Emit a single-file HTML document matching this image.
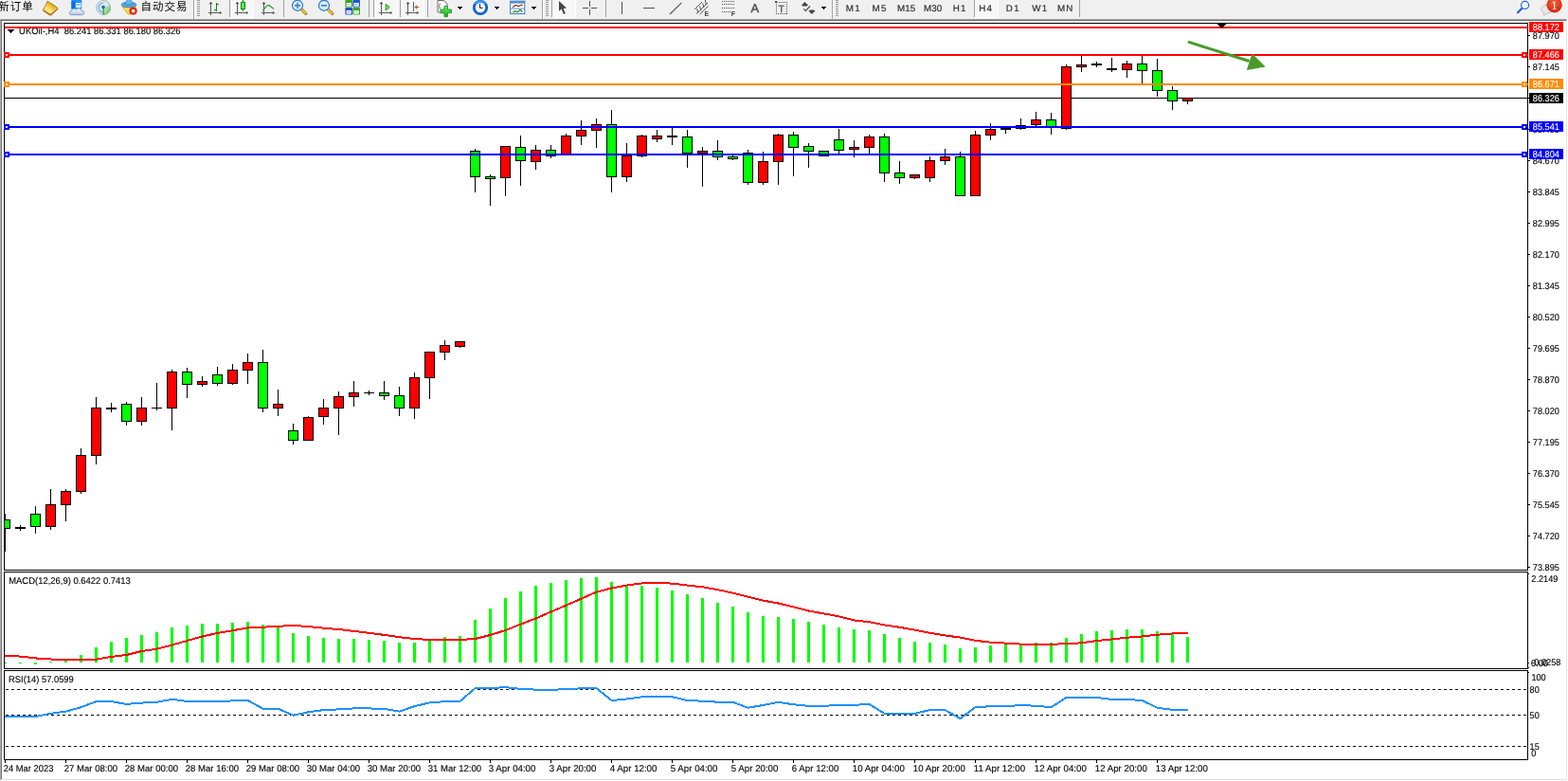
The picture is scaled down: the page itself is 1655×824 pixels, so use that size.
<!DOCTYPE html>
<html lang="zh-CN">
<head>
<meta charset="utf-8">
<title>UKOil-,H4</title>
<style>
html,body{margin:0;padding:0;background:#fff;}
body{width:1655px;height:824px;overflow:hidden;position:relative;font-family:"Liberation Sans","Noto Sans CJK SC",sans-serif;}
.chart{position:absolute;left:0;top:0;}
.tb{position:absolute;left:0;top:0;width:1655px;height:20px;background:#f0f0f0;overflow:hidden;}
.tb svg{position:absolute;left:0;top:0;}
.cjk{position:absolute;font-size:11.5px;line-height:12px;letter-spacing:1px;color:#000;white-space:nowrap;}
.tf{position:absolute;top:0;height:18px;line-height:17px;font-size:9px;color:#303030;text-align:center;width:28px;letter-spacing:0.2px;}
</style>
</head>
<body>
<svg class="chart" width="1655" height="824" viewBox="0 0 1655 824" font-family='"Liberation Sans", sans-serif' text-rendering="geometricPrecision">
<defs><clipPath id="cm"><rect x="5" y="25" width="1607" height="576"/></clipPath><clipPath id="ci"><rect x="5" y="604" width="1607" height="101"/></clipPath></defs>
<g shape-rendering="crispEdges">
<rect x="0" y="22" width="1655" height="802" fill="#fff"/>
<rect x="0" y="20" width="1654" height="1" fill="#a6a6a6"/>
<rect x="0" y="21" width="1653" height="1" fill="#696969"/>
<rect x="1653" y="21" width="2" height="1" fill="#f0f0f0"/>
<rect x="0" y="21" width="1" height="802" fill="#ababab"/>
<rect x="1" y="22" width="1" height="800" fill="#757575"/>
<rect x="1653" y="22" width="1" height="801" fill="#e6e6e6"/>
<rect x="2" y="822" width="1652" height="1" fill="#e0e0e0"/>
<rect x="5" y="103" width="1607" height="1" fill="#000"/>
<g clip-path="url(#cm)">
<rect x="5" y="542" width="1" height="40" fill="#000"/>
<rect x="0" y="548" width="11" height="10" fill="#000"/>
<rect x="1" y="549" width="9" height="8" fill="#00ff00"/>
<rect x="21" y="554" width="1" height="6" fill="#000"/>
<rect x="16" y="556" width="11" height="2" fill="#000"/>
<rect x="37" y="534" width="1" height="29" fill="#000"/>
<rect x="32" y="542" width="11" height="14" fill="#000"/>
<rect x="33" y="543" width="9" height="12" fill="#00ff00"/>
<rect x="53" y="516" width="1" height="43" fill="#000"/>
<rect x="48" y="532" width="11" height="24" fill="#000"/>
<rect x="49" y="533" width="9" height="22" fill="#ff0000"/>
<rect x="69" y="516" width="1" height="34" fill="#000"/>
<rect x="64" y="518" width="11" height="15" fill="#000"/>
<rect x="65" y="519" width="9" height="13" fill="#ff0000"/>
<rect x="85" y="473" width="1" height="48" fill="#000"/>
<rect x="80" y="480" width="11" height="39" fill="#000"/>
<rect x="81" y="481" width="9" height="37" fill="#ff0000"/>
<rect x="101" y="419" width="1" height="71" fill="#000"/>
<rect x="96" y="430" width="11" height="51" fill="#000"/>
<rect x="97" y="431" width="9" height="49" fill="#ff0000"/>
<rect x="117" y="425" width="1" height="10" fill="#000"/>
<rect x="112" y="430" width="11" height="2" fill="#000"/>
<rect x="133" y="424" width="1" height="25" fill="#000"/>
<rect x="128" y="426" width="11" height="19" fill="#000"/>
<rect x="129" y="427" width="9" height="17" fill="#00ff00"/>
<rect x="149" y="419" width="1" height="30" fill="#000"/>
<rect x="144" y="430" width="11" height="15" fill="#000"/>
<rect x="145" y="431" width="9" height="13" fill="#ff0000"/>
<rect x="165" y="404" width="1" height="29" fill="#000"/>
<rect x="160" y="430" width="11" height="1" fill="#000"/>
<rect x="181" y="390" width="1" height="64" fill="#000"/>
<rect x="176" y="392" width="11" height="39" fill="#000"/>
<rect x="177" y="393" width="9" height="37" fill="#ff0000"/>
<rect x="197" y="388" width="1" height="32" fill="#000"/>
<rect x="192" y="392" width="11" height="14" fill="#000"/>
<rect x="193" y="393" width="9" height="12" fill="#00ff00"/>
<rect x="213" y="397" width="1" height="11" fill="#000"/>
<rect x="208" y="402" width="11" height="4" fill="#000"/>
<rect x="209" y="403" width="9" height="2" fill="#ff0000"/>
<rect x="229" y="387" width="1" height="20" fill="#000"/>
<rect x="224" y="395" width="11" height="10" fill="#000"/>
<rect x="225" y="396" width="9" height="8" fill="#00ff00"/>
<rect x="245" y="384" width="1" height="22" fill="#000"/>
<rect x="240" y="390" width="11" height="15" fill="#000"/>
<rect x="241" y="391" width="9" height="13" fill="#ff0000"/>
<rect x="261" y="373" width="1" height="32" fill="#000"/>
<rect x="256" y="382" width="11" height="9" fill="#000"/>
<rect x="257" y="383" width="9" height="7" fill="#ff0000"/>
<rect x="277" y="369" width="1" height="66" fill="#000"/>
<rect x="272" y="382" width="11" height="49" fill="#000"/>
<rect x="273" y="383" width="9" height="47" fill="#00ff00"/>
<rect x="293" y="411" width="1" height="28" fill="#000"/>
<rect x="288" y="426" width="11" height="5" fill="#000"/>
<rect x="289" y="427" width="9" height="3" fill="#ff0000"/>
<rect x="309" y="447" width="1" height="22" fill="#000"/>
<rect x="304" y="454" width="11" height="11" fill="#000"/>
<rect x="305" y="455" width="9" height="9" fill="#00ff00"/>
<rect x="325" y="439" width="1" height="26" fill="#000"/>
<rect x="320" y="440" width="11" height="25" fill="#000"/>
<rect x="321" y="441" width="9" height="23" fill="#ff0000"/>
<rect x="341" y="421" width="1" height="27" fill="#000"/>
<rect x="336" y="430" width="11" height="10" fill="#000"/>
<rect x="337" y="431" width="9" height="8" fill="#ff0000"/>
<rect x="357" y="413" width="1" height="46" fill="#000"/>
<rect x="352" y="418" width="11" height="13" fill="#000"/>
<rect x="353" y="419" width="9" height="11" fill="#ff0000"/>
<rect x="373" y="402" width="1" height="27" fill="#000"/>
<rect x="368" y="414" width="11" height="5" fill="#000"/>
<rect x="369" y="415" width="9" height="3" fill="#ff0000"/>
<rect x="389" y="412" width="1" height="5" fill="#000"/>
<rect x="384" y="414" width="11" height="1" fill="#000"/>
<rect x="405" y="402" width="1" height="20" fill="#000"/>
<rect x="400" y="414" width="11" height="4" fill="#000"/>
<rect x="401" y="415" width="9" height="2" fill="#00ff00"/>
<rect x="421" y="408" width="1" height="31" fill="#000"/>
<rect x="416" y="417" width="11" height="14" fill="#000"/>
<rect x="417" y="418" width="9" height="12" fill="#00ff00"/>
<rect x="437" y="393" width="1" height="49" fill="#000"/>
<rect x="432" y="398" width="11" height="33" fill="#000"/>
<rect x="433" y="399" width="9" height="31" fill="#ff0000"/>
<rect x="453" y="371" width="1" height="50" fill="#000"/>
<rect x="448" y="371" width="11" height="28" fill="#000"/>
<rect x="449" y="372" width="9" height="26" fill="#ff0000"/>
<rect x="469" y="359" width="1" height="21" fill="#000"/>
<rect x="464" y="364" width="11" height="8" fill="#000"/>
<rect x="465" y="365" width="9" height="6" fill="#ff0000"/>
<rect x="485" y="360" width="1" height="7" fill="#000"/>
<rect x="480" y="360" width="11" height="6" fill="#000"/>
<rect x="481" y="361" width="9" height="4" fill="#ff0000"/>
<rect x="501" y="157" width="1" height="46" fill="#000"/>
<rect x="496" y="159" width="11" height="28" fill="#000"/>
<rect x="497" y="160" width="9" height="26" fill="#00ff00"/>
<rect x="517" y="184" width="1" height="33" fill="#000"/>
<rect x="512" y="186" width="11" height="3" fill="#000"/>
<rect x="513" y="187" width="9" height="1" fill="#00ff00"/>
<rect x="533" y="154" width="1" height="53" fill="#000"/>
<rect x="528" y="154" width="11" height="34" fill="#000"/>
<rect x="529" y="155" width="9" height="32" fill="#ff0000"/>
<rect x="549" y="143" width="1" height="53" fill="#000"/>
<rect x="544" y="155" width="11" height="15" fill="#000"/>
<rect x="545" y="156" width="9" height="13" fill="#00ff00"/>
<rect x="565" y="153" width="1" height="26" fill="#000"/>
<rect x="560" y="158" width="11" height="13" fill="#000"/>
<rect x="561" y="159" width="9" height="11" fill="#ff0000"/>
<rect x="581" y="153" width="1" height="14" fill="#000"/>
<rect x="576" y="158" width="11" height="7" fill="#000"/>
<rect x="577" y="159" width="9" height="5" fill="#00ff00"/>
<rect x="597" y="141" width="1" height="23" fill="#000"/>
<rect x="592" y="143" width="11" height="21" fill="#000"/>
<rect x="593" y="144" width="9" height="19" fill="#ff0000"/>
<rect x="613" y="127" width="1" height="26" fill="#000"/>
<rect x="608" y="137" width="11" height="7" fill="#000"/>
<rect x="609" y="138" width="9" height="5" fill="#ff0000"/>
<rect x="629" y="125" width="1" height="31" fill="#000"/>
<rect x="624" y="131" width="11" height="7" fill="#000"/>
<rect x="625" y="132" width="9" height="5" fill="#ff0000"/>
<rect x="645" y="116" width="1" height="87" fill="#000"/>
<rect x="640" y="131" width="11" height="56" fill="#000"/>
<rect x="641" y="132" width="9" height="54" fill="#00ff00"/>
<rect x="661" y="151" width="1" height="41" fill="#000"/>
<rect x="656" y="164" width="11" height="23" fill="#000"/>
<rect x="657" y="165" width="9" height="21" fill="#ff0000"/>
<rect x="677" y="142" width="1" height="24" fill="#000"/>
<rect x="672" y="143" width="11" height="22" fill="#000"/>
<rect x="673" y="144" width="9" height="20" fill="#ff0000"/>
<rect x="693" y="137" width="1" height="13" fill="#000"/>
<rect x="688" y="143" width="11" height="4" fill="#000"/>
<rect x="689" y="144" width="9" height="2" fill="#ff0000"/>
<rect x="709" y="133" width="1" height="20" fill="#000"/>
<rect x="704" y="143" width="11" height="2" fill="#000"/>
<rect x="725" y="137" width="1" height="40" fill="#000"/>
<rect x="720" y="144" width="11" height="18" fill="#000"/>
<rect x="721" y="145" width="9" height="16" fill="#00ff00"/>
<rect x="741" y="155" width="1" height="42" fill="#000"/>
<rect x="736" y="159" width="11" height="3" fill="#000"/>
<rect x="737" y="160" width="9" height="1" fill="#ff0000"/>
<rect x="757" y="148" width="1" height="21" fill="#000"/>
<rect x="752" y="159" width="11" height="7" fill="#000"/>
<rect x="753" y="160" width="9" height="5" fill="#00ff00"/>
<rect x="773" y="164" width="1" height="5" fill="#000"/>
<rect x="768" y="165" width="11" height="3" fill="#000"/>
<rect x="769" y="166" width="9" height="1" fill="#00ff00"/>
<rect x="789" y="158" width="1" height="37" fill="#000"/>
<rect x="784" y="161" width="11" height="32" fill="#000"/>
<rect x="785" y="162" width="9" height="30" fill="#00ff00"/>
<rect x="805" y="160" width="1" height="35" fill="#000"/>
<rect x="800" y="170" width="11" height="23" fill="#000"/>
<rect x="801" y="171" width="9" height="21" fill="#ff0000"/>
<rect x="821" y="141" width="1" height="54" fill="#000"/>
<rect x="816" y="142" width="11" height="29" fill="#000"/>
<rect x="817" y="143" width="9" height="27" fill="#ff0000"/>
<rect x="837" y="139" width="1" height="47" fill="#000"/>
<rect x="832" y="142" width="11" height="14" fill="#000"/>
<rect x="833" y="143" width="9" height="12" fill="#00ff00"/>
<rect x="853" y="151" width="1" height="26" fill="#000"/>
<rect x="848" y="154" width="11" height="6" fill="#000"/>
<rect x="849" y="155" width="9" height="4" fill="#00ff00"/>
<rect x="869" y="159" width="1" height="6" fill="#000"/>
<rect x="864" y="159" width="11" height="6" fill="#000"/>
<rect x="865" y="160" width="9" height="4" fill="#00ff00"/>
<rect x="885" y="136" width="1" height="26" fill="#000"/>
<rect x="880" y="147" width="11" height="12" fill="#000"/>
<rect x="881" y="148" width="9" height="10" fill="#00ff00"/>
<rect x="901" y="148" width="1" height="18" fill="#000"/>
<rect x="896" y="155" width="11" height="3" fill="#000"/>
<rect x="897" y="156" width="9" height="1" fill="#ff0000"/>
<rect x="917" y="142" width="1" height="20" fill="#000"/>
<rect x="912" y="144" width="11" height="12" fill="#000"/>
<rect x="913" y="145" width="9" height="10" fill="#ff0000"/>
<rect x="933" y="141" width="1" height="51" fill="#000"/>
<rect x="928" y="144" width="11" height="39" fill="#000"/>
<rect x="929" y="145" width="9" height="37" fill="#00ff00"/>
<rect x="949" y="170" width="1" height="24" fill="#000"/>
<rect x="944" y="182" width="11" height="6" fill="#000"/>
<rect x="945" y="183" width="9" height="4" fill="#00ff00"/>
<rect x="965" y="184" width="1" height="5" fill="#000"/>
<rect x="960" y="184" width="11" height="4" fill="#000"/>
<rect x="961" y="185" width="9" height="2" fill="#ff0000"/>
<rect x="981" y="165" width="1" height="27" fill="#000"/>
<rect x="976" y="169" width="11" height="19" fill="#000"/>
<rect x="977" y="170" width="9" height="17" fill="#ff0000"/>
<rect x="997" y="157" width="1" height="17" fill="#000"/>
<rect x="992" y="165" width="11" height="5" fill="#000"/>
<rect x="993" y="166" width="9" height="3" fill="#ff0000"/>
<rect x="1013" y="160" width="1" height="47" fill="#000"/>
<rect x="1008" y="165" width="11" height="42" fill="#000"/>
<rect x="1009" y="166" width="9" height="40" fill="#00ff00"/>
<rect x="1029" y="138" width="1" height="69" fill="#000"/>
<rect x="1024" y="142" width="11" height="65" fill="#000"/>
<rect x="1025" y="143" width="9" height="63" fill="#ff0000"/>
<rect x="1045" y="130" width="1" height="18" fill="#000"/>
<rect x="1040" y="136" width="11" height="7" fill="#000"/>
<rect x="1041" y="137" width="9" height="5" fill="#ff0000"/>
<rect x="1061" y="133" width="1" height="8" fill="#000"/>
<rect x="1056" y="135" width="11" height="2" fill="#000"/>
<rect x="1077" y="125" width="1" height="12" fill="#000"/>
<rect x="1072" y="132" width="11" height="4" fill="#000"/>
<rect x="1073" y="133" width="9" height="2" fill="#ff0000"/>
<rect x="1093" y="118" width="1" height="15" fill="#000"/>
<rect x="1088" y="126" width="11" height="6" fill="#000"/>
<rect x="1089" y="127" width="9" height="4" fill="#ff0000"/>
<rect x="1109" y="119" width="1" height="23" fill="#000"/>
<rect x="1104" y="126" width="11" height="9" fill="#000"/>
<rect x="1105" y="127" width="9" height="7" fill="#00ff00"/>
<rect x="1125" y="68" width="1" height="69" fill="#000"/>
<rect x="1120" y="70" width="11" height="66" fill="#000"/>
<rect x="1121" y="71" width="9" height="64" fill="#ff0000"/>
<rect x="1141" y="59" width="1" height="17" fill="#000"/>
<rect x="1136" y="68" width="11" height="3" fill="#000"/>
<rect x="1137" y="69" width="9" height="1" fill="#ff0000"/>
<rect x="1157" y="65" width="1" height="6" fill="#000"/>
<rect x="1152" y="67" width="11" height="2" fill="#000"/>
<rect x="1173" y="61" width="1" height="15" fill="#000"/>
<rect x="1168" y="72" width="11" height="2" fill="#000"/>
<rect x="1189" y="64" width="1" height="18" fill="#000"/>
<rect x="1184" y="67" width="11" height="7" fill="#000"/>
<rect x="1185" y="68" width="9" height="5" fill="#ff0000"/>
<rect x="1205" y="59" width="1" height="29" fill="#000"/>
<rect x="1200" y="67" width="11" height="8" fill="#000"/>
<rect x="1201" y="68" width="9" height="6" fill="#00ff00"/>
<rect x="1221" y="62" width="1" height="40" fill="#000"/>
<rect x="1216" y="74" width="11" height="22" fill="#000"/>
<rect x="1217" y="75" width="9" height="20" fill="#00ff00"/>
<rect x="1237" y="91" width="1" height="25" fill="#000"/>
<rect x="1232" y="95" width="11" height="12" fill="#000"/>
<rect x="1233" y="96" width="9" height="10" fill="#00ff00"/>
<rect x="1253" y="103" width="1" height="7" fill="#000"/>
<rect x="1248" y="103" width="11" height="4" fill="#000"/>
<rect x="1249" y="104" width="9" height="2" fill="#ff0000"/>
</g>
</g>
<path d="M8,31 L15,31 L11.5,35 Z" fill="#000" shape-rendering="crispEdges"/>
<text transform="translate(20.1 36) scale(0.96 1)" font-size="9.8" fill="#000" stroke="#000" stroke-width="0.12" xml:space="preserve">UKOil-,H4&#160; 86.241 86.331 86.180 86.326</text>
<g shape-rendering="crispEdges">
<rect x="4" y="24" width="1609" height="1" fill="#000"/>
<rect x="4" y="601" width="1609" height="1" fill="#000"/>
<rect x="4" y="24" width="1" height="578" fill="#000"/>
<rect x="1612" y="24" width="1" height="578" fill="#000"/>
<rect x="4" y="603" width="1609" height="1" fill="#000"/>
<rect x="4" y="705" width="1609" height="1" fill="#000"/>
<rect x="4" y="603" width="1" height="103" fill="#000"/>
<rect x="1612" y="603" width="1" height="103" fill="#000"/>
<rect x="4" y="707" width="1609" height="1" fill="#000"/>
<rect x="4" y="801" width="1609" height="1" fill="#000"/>
<rect x="4" y="707" width="1" height="95" fill="#000"/>
<rect x="1612" y="707" width="1" height="95" fill="#000"/>
<rect x="5" y="28" width="1608" height="2" fill="#ff0000"/>
<rect x="5" y="57" width="1608" height="2" fill="#ff0000"/>
<rect x="4" y="55" width="6" height="6" fill="#ff0000"/>
<rect x="6" y="57" width="2" height="2" fill="#fff"/>
<rect x="1606" y="55" width="6" height="6" fill="#ff0000"/>
<rect x="1608" y="57" width="2" height="2" fill="#fff"/>
<rect x="5" y="88" width="1608" height="2" fill="#ff8c00"/>
<rect x="4" y="86" width="6" height="6" fill="#ff8c00"/>
<rect x="6" y="88" width="2" height="2" fill="#fff"/>
<rect x="1606" y="86" width="6" height="6" fill="#ff8c00"/>
<rect x="1608" y="88" width="2" height="2" fill="#fff"/>
<rect x="5" y="133" width="1608" height="2" fill="#0000ff"/>
<rect x="4" y="131" width="6" height="6" fill="#0000ff"/>
<rect x="6" y="133" width="2" height="2" fill="#fff"/>
<rect x="1606" y="131" width="6" height="6" fill="#0000ff"/>
<rect x="1608" y="133" width="2" height="2" fill="#fff"/>
<rect x="5" y="162" width="1608" height="2" fill="#0000ff"/>
<rect x="4" y="160" width="6" height="6" fill="#0000ff"/>
<rect x="6" y="162" width="2" height="2" fill="#fff"/>
<rect x="1606" y="160" width="6" height="6" fill="#0000ff"/>
<rect x="1608" y="162" width="2" height="2" fill="#fff"/>
<g clip-path="url(#ci)">
<rect x="4" y="699" width="3" height="1" fill="#00ff00"/>
<rect x="20" y="699" width="3" height="1" fill="#00ff00"/>
<rect x="36" y="699" width="3" height="2" fill="#00ff00"/>
<rect x="52" y="698" width="3" height="1" fill="#00ff00"/>
<rect x="68" y="697" width="3" height="2" fill="#00ff00"/>
<rect x="84" y="691" width="3" height="8" fill="#00ff00"/>
<rect x="100" y="683" width="3" height="16" fill="#00ff00"/>
<rect x="116" y="677" width="3" height="22" fill="#00ff00"/>
<rect x="132" y="673" width="3" height="26" fill="#00ff00"/>
<rect x="148" y="670" width="3" height="29" fill="#00ff00"/>
<rect x="164" y="667" width="3" height="32" fill="#00ff00"/>
<rect x="180" y="662" width="3" height="37" fill="#00ff00"/>
<rect x="196" y="660" width="3" height="39" fill="#00ff00"/>
<rect x="212" y="658" width="3" height="41" fill="#00ff00"/>
<rect x="228" y="658" width="3" height="41" fill="#00ff00"/>
<rect x="244" y="657" width="3" height="42" fill="#00ff00"/>
<rect x="260" y="656" width="3" height="43" fill="#00ff00"/>
<rect x="276" y="659" width="3" height="40" fill="#00ff00"/>
<rect x="292" y="662" width="3" height="37" fill="#00ff00"/>
<rect x="308" y="668" width="3" height="31" fill="#00ff00"/>
<rect x="324" y="671" width="3" height="28" fill="#00ff00"/>
<rect x="340" y="673" width="3" height="26" fill="#00ff00"/>
<rect x="356" y="674" width="3" height="25" fill="#00ff00"/>
<rect x="372" y="674" width="3" height="25" fill="#00ff00"/>
<rect x="388" y="675" width="3" height="24" fill="#00ff00"/>
<rect x="404" y="676" width="3" height="23" fill="#00ff00"/>
<rect x="420" y="678" width="3" height="21" fill="#00ff00"/>
<rect x="436" y="678" width="3" height="21" fill="#00ff00"/>
<rect x="452" y="675" width="3" height="24" fill="#00ff00"/>
<rect x="468" y="672" width="3" height="27" fill="#00ff00"/>
<rect x="484" y="671" width="3" height="28" fill="#00ff00"/>
<rect x="500" y="654" width="3" height="45" fill="#00ff00"/>
<rect x="516" y="642" width="3" height="57" fill="#00ff00"/>
<rect x="532" y="631" width="3" height="68" fill="#00ff00"/>
<rect x="548" y="624" width="3" height="75" fill="#00ff00"/>
<rect x="564" y="618" width="3" height="81" fill="#00ff00"/>
<rect x="580" y="615" width="3" height="84" fill="#00ff00"/>
<rect x="596" y="612" width="3" height="87" fill="#00ff00"/>
<rect x="612" y="610" width="3" height="89" fill="#00ff00"/>
<rect x="628" y="609" width="3" height="90" fill="#00ff00"/>
<rect x="644" y="614" width="3" height="85" fill="#00ff00"/>
<rect x="660" y="618" width="3" height="81" fill="#00ff00"/>
<rect x="676" y="618" width="3" height="81" fill="#00ff00"/>
<rect x="692" y="620" width="3" height="79" fill="#00ff00"/>
<rect x="708" y="623" width="3" height="76" fill="#00ff00"/>
<rect x="724" y="627" width="3" height="72" fill="#00ff00"/>
<rect x="740" y="631" width="3" height="68" fill="#00ff00"/>
<rect x="756" y="636" width="3" height="63" fill="#00ff00"/>
<rect x="772" y="640" width="3" height="59" fill="#00ff00"/>
<rect x="788" y="646" width="3" height="53" fill="#00ff00"/>
<rect x="804" y="650" width="3" height="49" fill="#00ff00"/>
<rect x="820" y="651" width="3" height="48" fill="#00ff00"/>
<rect x="836" y="653" width="3" height="46" fill="#00ff00"/>
<rect x="852" y="656" width="3" height="43" fill="#00ff00"/>
<rect x="868" y="659" width="3" height="40" fill="#00ff00"/>
<rect x="884" y="662" width="3" height="37" fill="#00ff00"/>
<rect x="900" y="664" width="3" height="35" fill="#00ff00"/>
<rect x="916" y="665" width="3" height="34" fill="#00ff00"/>
<rect x="932" y="669" width="3" height="30" fill="#00ff00"/>
<rect x="948" y="673" width="3" height="26" fill="#00ff00"/>
<rect x="964" y="677" width="3" height="22" fill="#00ff00"/>
<rect x="980" y="678" width="3" height="21" fill="#00ff00"/>
<rect x="996" y="680" width="3" height="19" fill="#00ff00"/>
<rect x="1012" y="684" width="3" height="15" fill="#00ff00"/>
<rect x="1028" y="683" width="3" height="16" fill="#00ff00"/>
<rect x="1044" y="681" width="3" height="18" fill="#00ff00"/>
<rect x="1060" y="680" width="3" height="19" fill="#00ff00"/>
<rect x="1076" y="679" width="3" height="20" fill="#00ff00"/>
<rect x="1092" y="678" width="3" height="21" fill="#00ff00"/>
<rect x="1108" y="678" width="3" height="21" fill="#00ff00"/>
<rect x="1124" y="673" width="3" height="26" fill="#00ff00"/>
<rect x="1140" y="669" width="3" height="30" fill="#00ff00"/>
<rect x="1156" y="666" width="3" height="33" fill="#00ff00"/>
<rect x="1172" y="665" width="3" height="34" fill="#00ff00"/>
<rect x="1188" y="664" width="3" height="35" fill="#00ff00"/>
<rect x="1204" y="664" width="3" height="35" fill="#00ff00"/>
<rect x="1220" y="666" width="3" height="33" fill="#00ff00"/>
<rect x="1236" y="668" width="3" height="31" fill="#00ff00"/>
<rect x="1252" y="672" width="3" height="27" fill="#00ff00"/>
</g>
<line x1="6" y1="727.5" x2="1612" y2="727.5" stroke="#000" stroke-width="1" stroke-dasharray="3 3"/>
<line x1="6" y1="754.5" x2="1612" y2="754.5" stroke="#000" stroke-width="1" stroke-dasharray="3 3"/>
<line x1="6" y1="787.5" x2="1612" y2="787.5" stroke="#000" stroke-width="1" stroke-dasharray="3 3"/>
<polyline points="4.6,692 5.5,692 21.5,692.55 37.5,694.45 53.5,695.5 69.5,696 85.5,696 101.5,695.6 117.5,693 133.5,691 149.5,687 165.5,684.7 181.5,680.6 197.5,676 213.5,671.5 229.5,668 245.5,665.2 261.5,662.4 277.5,661.7 293.5,660.8 309.5,660 325.5,661 341.5,662.7 357.5,664 373.5,665.9 389.5,667.8 405.5,669.9 421.5,672.2 437.5,674 453.5,675 469.5,675 485.5,675 501.5,674 517.5,670 533.5,665 549.5,658.6 565.5,652.5 581.5,645.5 597.5,638.7 613.5,631.7 629.5,624.6 645.5,620.5 661.5,617.6 677.5,615.4 693.5,615 709.5,615.6 725.5,617.6 741.5,619.3 757.5,622.2 773.5,625.6 789.5,629.7 805.5,633.6 821.5,636.5 837.5,640.4 853.5,644.5 869.5,647.4 885.5,650.3 901.5,654.4 917.5,656.2 933.5,659.4 949.5,661.8 965.5,664.6 981.5,667.8 997.5,670.4 1013.5,672.6 1029.5,675.8 1045.5,677.7 1061.5,678.6 1077.5,679.6 1093.5,679.8 1109.5,679.8 1125.5,679.2 1141.5,678.3 1157.5,676.1 1173.5,674.5 1189.5,672.7 1205.5,671.5 1221.5,669.7 1237.5,668.5 1253.5,668 1254.4,668" fill="none" stroke="#ff0000" stroke-width="2" stroke-linejoin="round"/>
<polyline points="4.6,756 5.5,756 21.5,756 37.5,756 53.5,752.8 69.5,750.6 85.5,746.2 101.5,740.1 117.5,740.1 133.5,742.9 149.5,741.6 165.5,740.8 181.5,737.8 197.5,740 213.5,740 229.5,740 245.5,739.4 261.5,739 277.5,747.7 293.5,747.7 309.5,754.7 325.5,751.3 341.5,749.1 357.5,748.4 373.5,747.4 389.5,747.4 405.5,748 421.5,750.6 437.5,745.2 453.5,741.3 469.5,740.2 485.5,740 501.5,726.1 517.5,726.1 533.5,725.1 549.5,726.9 565.5,727.6 581.5,727.7 597.5,727.3 613.5,726.3 629.5,726.1 645.5,739 661.5,737.5 677.5,735.3 693.5,734.9 709.5,735.3 725.5,739 741.5,739.7 757.5,740.7 773.5,740.8 789.5,746.7 805.5,744 821.5,740.8 837.5,743.3 853.5,744.8 869.5,744.8 885.5,743.9 901.5,743.8 917.5,742.9 933.5,752.8 949.5,753.2 965.5,752.8 981.5,749.1 997.5,749.1 1013.5,758.1 1029.5,746.2 1045.5,745.2 1061.5,745.2 1077.5,744 1093.5,744.8 1109.5,746.2 1125.5,736 1141.5,735.7 1157.5,736 1173.5,737.9 1189.5,737.9 1205.5,739 1221.5,746.7 1237.5,748.9 1253.5,748.9 1254.4,748.9" fill="none" stroke="#1e90ff" stroke-width="2" stroke-linejoin="round"/>
<rect x="1284" y="24" width="11" height="1" fill="#000"/>
<rect x="1285" y="25" width="9" height="1" fill="#000"/>
<rect x="1286" y="26" width="7" height="1" fill="#000"/>
<rect x="1287" y="27" width="5" height="1" fill="#000"/>
<rect x="1288" y="28" width="3" height="1" fill="#000"/>
<rect x="1289" y="29" width="1" height="1" fill="#000"/>
<rect x="1613" y="37" width="2" height="1" fill="#000"/>
<rect x="1613" y="70" width="2" height="1" fill="#000"/>
<rect x="1613" y="103" width="2" height="1" fill="#000"/>
<rect x="1613" y="136" width="2" height="1" fill="#000"/>
<rect x="1613" y="169" width="2" height="1" fill="#000"/>
<rect x="1613" y="202" width="2" height="1" fill="#000"/>
<rect x="1613" y="235" width="2" height="1" fill="#000"/>
<rect x="1613" y="268" width="2" height="1" fill="#000"/>
<rect x="1613" y="301" width="2" height="1" fill="#000"/>
<rect x="1613" y="334" width="2" height="1" fill="#000"/>
<rect x="1613" y="367" width="2" height="1" fill="#000"/>
<rect x="1613" y="400" width="2" height="1" fill="#000"/>
<rect x="1613" y="433" width="2" height="1" fill="#000"/>
<rect x="1613" y="466" width="2" height="1" fill="#000"/>
<rect x="1613" y="499" width="2" height="1" fill="#000"/>
<rect x="1613" y="532" width="2" height="1" fill="#000"/>
<rect x="1613" y="565" width="2" height="1" fill="#000"/>
<rect x="1613" y="598" width="2" height="1" fill="#000"/>
<rect x="1613" y="605" width="1" height="1" fill="#000"/>
<rect x="1613" y="699" width="1" height="1" fill="#000"/>
<rect x="1613" y="704" width="1" height="1" fill="#000"/>
<rect x="1613" y="709" width="1" height="1" fill="#000"/>
<rect x="5" y="802" width="1" height="3" fill="#000"/>
<rect x="69" y="802" width="1" height="3" fill="#000"/>
<rect x="133" y="802" width="1" height="3" fill="#000"/>
<rect x="197" y="802" width="1" height="3" fill="#000"/>
<rect x="261" y="802" width="1" height="3" fill="#000"/>
<rect x="325" y="802" width="1" height="3" fill="#000"/>
<rect x="389" y="802" width="1" height="3" fill="#000"/>
<rect x="453" y="802" width="1" height="3" fill="#000"/>
<rect x="517" y="802" width="1" height="3" fill="#000"/>
<rect x="581" y="802" width="1" height="3" fill="#000"/>
<rect x="645" y="802" width="1" height="3" fill="#000"/>
<rect x="709" y="802" width="1" height="3" fill="#000"/>
<rect x="773" y="802" width="1" height="3" fill="#000"/>
<rect x="837" y="802" width="1" height="3" fill="#000"/>
<rect x="901" y="802" width="1" height="3" fill="#000"/>
<rect x="965" y="802" width="1" height="3" fill="#000"/>
<rect x="1029" y="802" width="1" height="3" fill="#000"/>
<rect x="1093" y="802" width="1" height="3" fill="#000"/>
<rect x="1157" y="802" width="1" height="3" fill="#000"/>
<rect x="1221" y="802" width="1" height="3" fill="#000"/>
<rect x="1614" y="23" width="36" height="11" fill="#ff0000"/>
<rect x="1614" y="52" width="36" height="11" fill="#ff0000"/>
<rect x="1614" y="83" width="36" height="11" fill="#ff8c00"/>
<rect x="1614" y="98" width="36" height="11" fill="#000"/>
</g>
<g fill="#4a9a2a" stroke="none">
<path d="M1253.4,45.6 L1254.4,42.8 L1319.2,63.0 L1318.0,66.0 Z"/>
<path d="M1321.6,56.6 L1335.6,70.4 L1315.8,73.9 Z"/>
</g>
<g>
<text transform="translate(9.2 616) scale(0.964 1)" font-size="9.8" fill="#000" stroke="#000" stroke-width="0.12">MACD(12,26,9) 0.6422 0.7413</text>
<text transform="translate(9.1 720) scale(0.955 1)" font-size="9.8" fill="#000" stroke="#000" stroke-width="0.12">RSI(14) 57.0599</text>
<text transform="translate(1617.8 41) scale(0.935 1)" font-size="9.8" fill="#000" stroke="#000" stroke-width="0.12">87.970</text>
<text transform="translate(1617.8 74) scale(0.935 1)" font-size="9.8" fill="#000" stroke="#000" stroke-width="0.12">87.145</text>
<text transform="translate(1617.8 107) scale(0.935 1)" font-size="9.8" fill="#000" stroke="#000" stroke-width="0.12">86.320</text>
<text transform="translate(1617.8 140) scale(0.935 1)" font-size="9.8" fill="#000" stroke="#000" stroke-width="0.12">85.495</text>
<text transform="translate(1617.8 173) scale(0.935 1)" font-size="9.8" fill="#000" stroke="#000" stroke-width="0.12">84.670</text>
<text transform="translate(1617.8 206) scale(0.935 1)" font-size="9.8" fill="#000" stroke="#000" stroke-width="0.12">83.845</text>
<text transform="translate(1617.8 239) scale(0.935 1)" font-size="9.8" fill="#000" stroke="#000" stroke-width="0.12">82.995</text>
<text transform="translate(1617.8 272) scale(0.935 1)" font-size="9.8" fill="#000" stroke="#000" stroke-width="0.12">82.170</text>
<text transform="translate(1617.8 305) scale(0.935 1)" font-size="9.8" fill="#000" stroke="#000" stroke-width="0.12">81.345</text>
<text transform="translate(1617.8 338) scale(0.935 1)" font-size="9.8" fill="#000" stroke="#000" stroke-width="0.12">80.520</text>
<text transform="translate(1617.8 371) scale(0.935 1)" font-size="9.8" fill="#000" stroke="#000" stroke-width="0.12">79.695</text>
<text transform="translate(1617.8 404) scale(0.935 1)" font-size="9.8" fill="#000" stroke="#000" stroke-width="0.12">78.870</text>
<text transform="translate(1617.8 437) scale(0.935 1)" font-size="9.8" fill="#000" stroke="#000" stroke-width="0.12">78.020</text>
<text transform="translate(1617.8 470) scale(0.935 1)" font-size="9.8" fill="#000" stroke="#000" stroke-width="0.12">77.195</text>
<text transform="translate(1617.8 503) scale(0.935 1)" font-size="9.8" fill="#000" stroke="#000" stroke-width="0.12">76.370</text>
<text transform="translate(1617.8 536) scale(0.935 1)" font-size="9.8" fill="#000" stroke="#000" stroke-width="0.12">75.545</text>
<text transform="translate(1617.8 569) scale(0.935 1)" font-size="9.8" fill="#000" stroke="#000" stroke-width="0.12">74.720</text>
<text transform="translate(1617.8 602) scale(0.935 1)" font-size="9.8" fill="#000" stroke="#000" stroke-width="0.12">73.895</text>
<text transform="translate(1616.3 614) scale(0.935 1)" font-size="9.8" fill="#000" stroke="#000" stroke-width="0.12">2.2149</text>
<text transform="translate(1616 703) scale(0.935 1)" font-size="9.8" fill="#000" stroke="#000" stroke-width="0.12">0.00</text>
<text transform="translate(1616.3 702) scale(0.935 1)" font-size="9.8" fill="#000" stroke="#000" stroke-width="0.12">-0.0258</text>
<text transform="translate(1616.4 718) scale(0.935 1)" font-size="9.8" fill="#000" stroke="#000" stroke-width="0.12">100</text>
<text transform="translate(1614.6 731) scale(0.935 1)" font-size="9.8" fill="#000" stroke="#000" stroke-width="0.12">80</text>
<text transform="translate(1614.6 758) scale(0.935 1)" font-size="9.8" fill="#000" stroke="#000" stroke-width="0.12">50</text>
<text transform="translate(1614.6 791) scale(0.935 1)" font-size="9.8" fill="#000" stroke="#000" stroke-width="0.12">15</text>
<text transform="translate(1616.3 798) scale(0.935 1)" font-size="9.8" fill="#000" stroke="#000" stroke-width="0.12">0</text>
<text transform="translate(3.8 814) scale(0.955 1)" font-size="9.8" fill="#000" stroke="#000" stroke-width="0.12">24 Mar 2023</text>
<text transform="translate(67.8 814) scale(0.975 1)" font-size="9.8" fill="#000" stroke="#000" stroke-width="0.12">27 Mar 08:00</text>
<text transform="translate(131.8 814) scale(0.975 1)" font-size="9.8" fill="#000" stroke="#000" stroke-width="0.12">28 Mar 00:00</text>
<text transform="translate(195.8 814) scale(0.975 1)" font-size="9.8" fill="#000" stroke="#000" stroke-width="0.12">28 Mar 16:00</text>
<text transform="translate(259.8 814) scale(0.975 1)" font-size="9.8" fill="#000" stroke="#000" stroke-width="0.12">29 Mar 08:00</text>
<text transform="translate(323.8 814) scale(0.975 1)" font-size="9.8" fill="#000" stroke="#000" stroke-width="0.12">30 Mar 04:00</text>
<text transform="translate(387.8 814) scale(0.975 1)" font-size="9.8" fill="#000" stroke="#000" stroke-width="0.12">30 Mar 20:00</text>
<text transform="translate(451.8 814) scale(0.975 1)" font-size="9.8" fill="#000" stroke="#000" stroke-width="0.12">31 Mar 12:00</text>
<text transform="translate(515.8 814) scale(0.99 1)" font-size="9.8" fill="#000" stroke="#000" stroke-width="0.12">3 Apr 04:00</text>
<text transform="translate(579.8 814) scale(0.99 1)" font-size="9.8" fill="#000" stroke="#000" stroke-width="0.12">3 Apr 20:00</text>
<text transform="translate(643.8 814) scale(0.99 1)" font-size="9.8" fill="#000" stroke="#000" stroke-width="0.12">4 Apr 12:00</text>
<text transform="translate(707.8 814) scale(0.99 1)" font-size="9.8" fill="#000" stroke="#000" stroke-width="0.12">5 Apr 04:00</text>
<text transform="translate(771.8 814) scale(0.99 1)" font-size="9.8" fill="#000" stroke="#000" stroke-width="0.12">5 Apr 20:00</text>
<text transform="translate(835.8 814) scale(0.99 1)" font-size="9.8" fill="#000" stroke="#000" stroke-width="0.12">6 Apr 12:00</text>
<text transform="translate(899.8 814) scale(0.99 1)" font-size="9.8" fill="#000" stroke="#000" stroke-width="0.12">10 Apr 04:00</text>
<text transform="translate(963.8 814) scale(0.99 1)" font-size="9.8" fill="#000" stroke="#000" stroke-width="0.12">10 Apr 20:00</text>
<text transform="translate(1027.8 814) scale(0.99 1)" font-size="9.8" fill="#000" stroke="#000" stroke-width="0.12">11 Apr 12:00</text>
<text transform="translate(1091.8 814) scale(0.99 1)" font-size="9.8" fill="#000" stroke="#000" stroke-width="0.12">12 Apr 04:00</text>
<text transform="translate(1155.8 814) scale(0.99 1)" font-size="9.8" fill="#000" stroke="#000" stroke-width="0.12">12 Apr 20:00</text>
<text transform="translate(1219.8 814) scale(0.99 1)" font-size="9.8" fill="#000" stroke="#000" stroke-width="0.12">13 Apr 12:00</text>
</g>
<g shape-rendering="crispEdges">
<rect x="1614" y="128" width="36" height="11" fill="#0000ff"/>
<rect x="1614" y="157" width="36" height="11" fill="#0000ff"/>
</g>
<text transform="translate(1617.8 32) scale(0.935 1)" font-size="9.8" fill="#fff" stroke="#fff" stroke-width="0.12">88.172</text>
<text transform="translate(1617.8 61) scale(0.935 1)" font-size="9.8" fill="#fff" stroke="#fff" stroke-width="0.12">87.466</text>
<text transform="translate(1617.8 92) scale(0.935 1)" font-size="9.8" fill="#fff" stroke="#fff" stroke-width="0.12">86.671</text>
<text transform="translate(1617.8 107) scale(0.935 1)" font-size="9.8" fill="#fff" stroke="#fff" stroke-width="0.12">86.326</text>
<text transform="translate(1617.8 137) scale(0.935 1)" font-size="9.8" fill="#fff" stroke="#fff" stroke-width="0.12">85.541</text>
<text transform="translate(1617.8 166) scale(0.935 1)" font-size="9.8" fill="#fff" stroke="#fff" stroke-width="0.12">84.804</text>
</svg>
<div class="tb">
<svg width="1655" height="20" viewBox="0 0 1655 20" font-family='"Liberation Sans", sans-serif'>
<defs>
<pattern id="hatch" width="2" height="2" patternUnits="userSpaceOnUse"><rect width="2" height="2" fill="#f0f0f0"/><rect width="1" height="1" fill="#fff"/><rect x="1" y="1" width="1" height="1" fill="#fff"/></pattern>
<linearGradient id="gold" x1="0.9" y1="0.1" x2="0.2" y2="0.9"><stop offset="0" stop-color="#c8900c"/><stop offset="0.35" stop-color="#e6b418"/><stop offset="0.7" stop-color="#ffe88a"/><stop offset="1" stop-color="#d9a21a"/></linearGradient>
<linearGradient id="sweep" x1="0" y1="0" x2="1" y2="1"><stop offset="0" stop-color="#d8ead8" stop-opacity="0.6"/><stop offset="1" stop-color="#3aa83a" stop-opacity="0.95"/></linearGradient>
<linearGradient id="grn" x1="0" y1="0" x2="0" y2="1"><stop offset="0" stop-color="#7df07d"/><stop offset="1" stop-color="#0bb00b"/></linearGradient>
<linearGradient id="blu" x1="0" y1="0" x2="0" y2="1"><stop offset="0" stop-color="#3aa0ff"/><stop offset="1" stop-color="#0a5fc8"/></linearGradient>
<linearGradient id="cloud" x1="0" y1="0" x2="0" y2="1"><stop offset="0" stop-color="#ffffff"/><stop offset="1" stop-color="#b4c6e4"/></linearGradient>
<radialGradient id="badge" cx="0.45" cy="0.3" r="0.8"><stop offset="0" stop-color="#f0603a"/><stop offset="1" stop-color="#d81c08"/></radialGradient>
<radialGradient id="radar" cx="0.5" cy="0.5" r="0.5"><stop offset="0" stop-color="#c8e6d8"/><stop offset="1" stop-color="#e8f0f4"/></radialGradient>
</defs>
<path d="M50.2,1.2 C52,3 58.6,5.6 61.2,9 L54.6,15.8 L52.6,16 L45.2,10.8 C46.6,8.6 48.8,4.6 50.2,1.2 Z" fill="url(#gold)" stroke="#a8680e" stroke-width="0.9"/>
<path d="M46,11.4 L53,15.4 L60.6,9.6" fill="none" stroke="#9a5e0c" stroke-width="1.1" opacity="0.85"/>
<path d="M46.4,10 L53,13.6 L60,8.6" fill="none" stroke="#fff2b0" stroke-width="0.8" opacity="0.7"/>
<path d="M75.4,0.6 L79,-0.6 L86.2,0 L86.2,9.5 L75.4,9.5 Z" fill="#1e90ff"/>
<path d="M75.4,0.6 L79,1.6 L79,9.5 L75.4,9.5 Z" fill="#0a6fe0"/>
<rect x="80.2" y="3" width="5.2" height="5" fill="#eef7ff"/><rect x="81" y="4.4" width="3.6" height="1" fill="#2a8af0"/>
<path d="M75.2,15.6 C72.6,15.6 72.6,11.6 75.6,11.4 C75.8,9.2 79,8.6 80.4,10.2 C81.6,8 85.6,8.4 85.8,11 C89.2,10.6 89.8,15.6 86.6,15.6 Z" fill="url(#cloud)" stroke="#6f8fc8" stroke-width="0.9"/>
<circle cx="109" cy="8" r="7.6" fill="url(#radar)"/>
<path d="M109,0.6 A7.4,7.4 0 0 0 109,15.4" fill="none" stroke="#9db4e8" stroke-width="1"/>
<path d="M109,3 A5,5 0 0 0 109,13" fill="none" stroke="#6f92dc" stroke-width="1.1"/>
<path d="M109,8 L116.6,5 A8,8 0 0 1 109,16 Z" fill="url(#sweep)"/>
<path d="M109,0.6 A7.4,7.4 0 0 1 116.4,8" fill="none" stroke="#a8c8b8" stroke-width="1.2"/>
<circle cx="109" cy="7.6" r="1.8" fill="#2a5fd0"/><rect x="108.6" y="8" width="1.1" height="7.8" fill="#18a018"/>
<path d="M129,7 L143.4,7 L139,15 L135.2,15 Z" fill="#f6dc50" stroke="#c89a18" stroke-width="0.8"/>
<ellipse cx="136" cy="5" rx="8" ry="2.8" fill="#55a8e0" stroke="#2a78b8" stroke-width="0.7"/>
<path d="M132.4,4.6 C132.6,0.4 135,-0.8 136,-0.8 C137,-0.8 139.6,0.4 139.8,4.6 Z" fill="#6ab8ec" stroke="#2a78b8" stroke-width="0.6"/>
<circle cx="140.6" cy="11.6" r="4.1" fill="#e02810"/><rect x="139" y="10" width="3.2" height="3.2" fill="#fff"/>
<rect x="204" y="0" width="1" height="20" fill="#a0a0a0" shape-rendering="crispEdges"/><rect x="205" y="0" width="1" height="20" fill="#ffffff" shape-rendering="crispEdges"/>
<g fill="#9a9a9a" shape-rendering="crispEdges"><rect x="208" y="0" width="3" height="1"/><rect x="208" y="2" width="3" height="1"/><rect x="208" y="4" width="3" height="1"/><rect x="208" y="6" width="3" height="1"/><rect x="208" y="8" width="3" height="1"/><rect x="208" y="10" width="3" height="1"/><rect x="208" y="12" width="3" height="1"/><rect x="208" y="14" width="3" height="1"/><rect x="208" y="16" width="3" height="1"/></g>
<g fill="#595959" shape-rendering="crispEdges"><rect x="222" y="3" width="1" height="13"/><rect x="221" y="3" width="3" height="1"/><rect x="220" y="13" width="13" height="1"/></g><path d="M222.5,1.7 L224.3,4.2 L220.7,4.2 Z" fill="#595959"/><path d="M234.2,13.5 L231.8,11.8 L231.8,15.2 Z" fill="#595959"/>
<g fill="#0a8a0a" shape-rendering="crispEdges"><rect x="228" y="3" width="1" height="9"/><rect x="229" y="4" width="2" height="1"/><rect x="226" y="10" width="2" height="1"/></g>
<g shape-rendering="crispEdges"><rect x="242" y="0" width="25" height="18" fill="url(#hatch)"/><rect x="242" y="0" width="1" height="18" fill="#a0a0a0"/><rect x="243" y="18" width="25" height="1" fill="#ffffff"/><rect x="267" y="0" width="1" height="19" fill="#ffffff"/></g>
<g fill="#595959" shape-rendering="crispEdges"><rect x="250" y="3" width="1" height="13"/><rect x="249" y="3" width="3" height="1"/><rect x="248" y="13" width="13" height="1"/></g><path d="M250.5,1.7 L252.3,4.2 L248.7,4.2 Z" fill="#595959"/><path d="M262.2,13.5 L259.8,11.8 L259.8,15.2 Z" fill="#595959"/>
<g shape-rendering="crispEdges"><rect x="256" y="0" width="1" height="12" fill="#0a8a0a"/><rect x="254" y="2" width="5" height="8" fill="#0a8a0a"/><rect x="255" y="3" width="3" height="6" fill="#5be85b"/></g>
<g fill="#595959" shape-rendering="crispEdges"><rect x="278" y="3" width="1" height="13"/><rect x="277" y="3" width="3" height="1"/><rect x="276" y="13" width="13" height="1"/></g><path d="M278.5,1.7 L280.3,4.2 L276.7,4.2 Z" fill="#595959"/><path d="M290.2,13.5 L287.8,11.8 L287.8,15.2 Z" fill="#595959"/>
<path d="M277.4,10.6 C280,9 281.6,5.2 283.4,5.4 C285.2,5.6 286.6,8.6 289.2,9.2" fill="none" stroke="#1a9a1a" stroke-width="1.1"/>
<rect x="299" y="0" width="1" height="18" fill="#a0a0a0" shape-rendering="crispEdges"/>
<path d="M318,9.6 L322.8,14.4" stroke="#9a7410" stroke-width="3.2" stroke-linecap="round"/>
<path d="M318.2,9.8 L322.6,14.2" stroke="#f0cc3c" stroke-width="1.8" stroke-linecap="round"/>
<circle cx="314" cy="5.8" r="5.5" fill="#d5ecf8" stroke="#2f78c8" stroke-width="1.2"/>
<rect x="311" y="5" width="6" height="1.6" fill="#3c86b4"/>
<rect x="313.2" y="2.8" width="1.6" height="6" fill="#3c86b4"/>
<path d="M346,9.6 L350.8,14.4" stroke="#9a7410" stroke-width="3.2" stroke-linecap="round"/>
<path d="M346.2,9.8 L350.6,14.2" stroke="#f0cc3c" stroke-width="1.8" stroke-linecap="round"/>
<circle cx="342" cy="5.8" r="5.5" fill="#d5ecf8" stroke="#2f78c8" stroke-width="1.2"/>
<rect x="339" y="5" width="6" height="1.6" fill="#3c86b4"/>
<rect x="364.4" y="0" width="7.6" height="7.6" rx="0.8" fill="#3aa51e"/>
<rect x="365.59999999999997" y="3" width="5.2" height="3.6" fill="#fff"/><rect x="366.4" y="4" width="3.6" height="0.9" fill="#3aa51e" opacity="0.55"/>
<rect x="372.4" y="0" width="7.6" height="7.6" rx="0.8" fill="#1f55cf"/>
<rect x="373.59999999999997" y="3" width="5.2" height="3.6" fill="#fff"/><rect x="374.4" y="4" width="3.6" height="0.9" fill="#1f55cf" opacity="0.55"/>
<rect x="364.4" y="8" width="7.6" height="7.6" rx="0.8" fill="#1f55cf"/>
<rect x="365.59999999999997" y="11" width="5.2" height="3.6" fill="#fff"/><rect x="366.4" y="12" width="3.6" height="0.9" fill="#1f55cf" opacity="0.55"/>
<rect x="372.4" y="8" width="7.6" height="7.6" rx="0.8" fill="#3aa51e"/>
<rect x="373.59999999999997" y="11" width="5.2" height="3.6" fill="#fff"/><rect x="374.4" y="12" width="3.6" height="0.9" fill="#3aa51e" opacity="0.55"/>
<rect x="389" y="0" width="1" height="18" fill="#a0a0a0" shape-rendering="crispEdges"/>
<g shape-rendering="crispEdges"><rect x="394" y="0" width="25" height="18" fill="url(#hatch)"/><rect x="394" y="0" width="1" height="18" fill="#a0a0a0"/><rect x="395" y="18" width="25" height="1" fill="#ffffff"/><rect x="419" y="0" width="1" height="19" fill="#ffffff"/></g>
<g fill="#595959" shape-rendering="crispEdges"><rect x="402" y="3" width="1" height="13"/><rect x="401" y="3" width="3" height="1"/><rect x="400" y="13" width="13" height="1"/></g><path d="M402.5,1.7 L404.3,4.2 L400.7,4.2 Z" fill="#595959"/><path d="M414.2,13.5 L411.8,11.8 L411.8,15.2 Z" fill="#595959"/>
<path d="M407.2,4.2 L411.2,7.6 L407.2,11 Z" fill="#6fe86f" stroke="#0a8a0a" stroke-width="0.9"/>
<g shape-rendering="crispEdges"><rect x="422" y="0" width="25" height="18" fill="url(#hatch)"/><rect x="422" y="0" width="1" height="18" fill="#a0a0a0"/><rect x="423" y="18" width="25" height="1" fill="#ffffff"/><rect x="447" y="0" width="1" height="19" fill="#ffffff"/></g>
<g fill="#595959" shape-rendering="crispEdges"><rect x="430" y="3" width="1" height="13"/><rect x="429" y="3" width="3" height="1"/><rect x="428" y="13" width="13" height="1"/></g><path d="M430.5,1.7 L432.3,4.2 L428.7,4.2 Z" fill="#595959"/><path d="M442.2,13.5 L439.8,11.8 L439.8,15.2 Z" fill="#595959"/>
<rect x="436" y="2" width="1" height="10" fill="#1a6fa6" shape-rendering="crispEdges"/>
<path d="M437.4,7.5 L440,5.3 L440,6.9 L442.2,6.9 L442.2,8.1 L440,8.1 L440,9.7 Z" fill="#d84808"/>
<rect x="451" y="0" width="1" height="18" fill="#a0a0a0" shape-rendering="crispEdges"/>
<path d="M462,0.5 L468.6,0.5 L472,3.8 L472,13 L462,13 Z" fill="#fdfdfd" stroke="#6a6a6a" stroke-width="1"/>
<path d="M464.6,3.6 C463.6,3.6 464.4,6.4 463.4,6.6 C464.4,6.8 463.6,9.8 464.6,9.8" fill="none" stroke="#4a4a3a" stroke-width="0.8"/>
<path d="M469,6.4 L472.4,6.4 L472.4,10 L476.4,10 L476.4,13.6 L472.4,13.6 L472.4,17.6 L469,17.6 L469,13.6 L465,13.6 L465,10 L469,10 Z" fill="url(#grn)" stroke="#0a8a0a" stroke-width="0.8"/>
<g fill="#000" shape-rendering="crispEdges"><rect x="483" y="7" width="5" height="1"/><rect x="484" y="8" width="3" height="1"/><rect x="485" y="9" width="1" height="1"/></g>
<circle cx="507" cy="8" r="6.7" fill="#f4f8fc" stroke="#0c63c8" stroke-width="2.8"/>
<path d="M501.6,4.2 A6.7,6.7 0 0 1 512.4,4.2" fill="none" stroke="#3a9af4" stroke-width="2.2"/>
<path d="M506.4,4 L506.6,8.2 L509.4,8.4" fill="none" stroke="#303030" stroke-width="1.1"/>
<g fill="#000" shape-rendering="crispEdges"><rect x="522" y="7" width="5" height="1"/><rect x="523" y="8" width="3" height="1"/><rect x="524" y="9" width="1" height="1"/></g>
<rect x="538.6" y="1.2" width="15.2" height="13.4" fill="#fff" stroke="#3478c8" stroke-width="1"/>
<rect x="538.6" y="1.2" width="15.2" height="2.4" fill="#4f8fd8"/><rect x="539" y="8.6" width="14.4" height="1" fill="#4f8fd8"/>
<path d="M540.6,7.2 L542.2,7.2 L543.6,5.6 L545.2,5.6 L546.4,6.4 L548.4,6.4 L550,5.4 L551.6,5.4" fill="none" stroke="#a02408" stroke-width="1.1"/>
<path d="M541.2,12.6 L542.6,12.6 L544,11.4 L545.4,12.6 L546.6,12.6 L548.6,10.4 L550,10.8 L551.4,12.6" fill="none" stroke="#0f8a1a" stroke-width="1.1"/>
<g fill="#000" shape-rendering="crispEdges"><rect x="561" y="7" width="5" height="1"/><rect x="562" y="8" width="3" height="1"/><rect x="563" y="9" width="1" height="1"/></g>
<rect x="572" y="0" width="1" height="20" fill="#a0a0a0" shape-rendering="crispEdges"/><rect x="573" y="0" width="1" height="20" fill="#ffffff" shape-rendering="crispEdges"/>
<g fill="#9a9a9a" shape-rendering="crispEdges"><rect x="576" y="0" width="3" height="1"/><rect x="576" y="2" width="3" height="1"/><rect x="576" y="4" width="3" height="1"/><rect x="576" y="6" width="3" height="1"/><rect x="576" y="8" width="3" height="1"/><rect x="576" y="10" width="3" height="1"/><rect x="576" y="12" width="3" height="1"/><rect x="576" y="14" width="3" height="1"/><rect x="576" y="16" width="3" height="1"/></g>
<g shape-rendering="crispEdges"><rect x="582" y="0" width="25" height="18" fill="url(#hatch)"/><rect x="582" y="0" width="1" height="18" fill="#a0a0a0"/><rect x="583" y="18" width="25" height="1" fill="#ffffff"/><rect x="607" y="0" width="1" height="19" fill="#ffffff"/></g>
<path d="M590,1 L590,11.8 L592.6,9.6 L595,15 L596.8,14.2 L594.6,9 L598,8.6 Z" fill="#454545"/>
<g fill="#505050" shape-rendering="crispEdges"><rect x="622" y="1" width="1" height="6"/><rect x="622" y="10" width="1" height="6"/><rect x="615" y="8" width="6" height="1"/><rect x="624" y="8" width="6" height="1"/><rect x="622" y="8" width="1" height="1" opacity="0.5"/></g>
<rect x="639" y="0" width="1" height="18" fill="#a0a0a0" shape-rendering="crispEdges"/>
<g fill="#505050" shape-rendering="crispEdges"><rect x="656" y="2" width="1" height="13"/><rect x="679" y="8" width="12" height="1"/></g>
<path d="M707,15 L719.4,2.8" stroke="#505050" stroke-width="1.1"/>
<g stroke="#454545" stroke-width="0.9" fill="none"><path d="M733,10 L741,2"/><path d="M735,14.6 L747,3"/><path d="M738.6,15 L747.6,6.4"/><path d="M735.6,9 L736.6,13.4 M738.6,6.6 L739.8,10.8 M741.8,3.6 L742.8,8 M744.4,0 L745.2,5"/></g>
<text x="743.6" y="16.6" font-size="7" font-weight="bold" fill="#404040">E</text>
<g stroke="#505050" stroke-width="1" stroke-dasharray="1 1" shape-rendering="crispEdges"><path d="M762,1.5 L775,1.5"/><path d="M762,4.5 L775,4.5"/><path d="M762,8.5 L775,8.5"/><path d="M762,12.5 L771,12.5"/></g>
<text x="771.8" y="16.8" font-size="7" font-weight="bold" fill="#404040">F</text>
<text x="792.4" y="13" font-size="12.8" fill="#505050" stroke="#505050" stroke-width="0.5" text-rendering="geometricPrecision">A</text>
<rect x="819.5" y="2.5" width="11" height="12" fill="none" stroke="#505050" stroke-width="1" stroke-dasharray="1 1" shape-rendering="crispEdges"/>
<rect x="818" y="1" width="2" height="2" fill="#505050" shape-rendering="crispEdges"/>
<text x="821.4" y="12.8" font-size="10.5" fill="#505050" stroke="#505050" stroke-width="0.3" text-rendering="geometricPrecision">T</text>
<path d="M849.4,2 L853,5.4 L851.4,6.6 L847.6,6.6 L846,5.4 Z" fill="#454545"/>
<path d="M848.2,9.4 L850.4,11.4 L855,6.4" fill="none" stroke="#454545" stroke-width="1.2"/>
<path d="M853.4,11.4 L855,10.4 L858.8,10.4 L860.4,11.4 L856.8,15 Z" fill="#454545"/>
<g fill="#000" shape-rendering="crispEdges"><rect x="867" y="7" width="5" height="1"/><rect x="868" y="8" width="3" height="1"/><rect x="869" y="9" width="1" height="1"/></g>
<rect x="878" y="0" width="1" height="20" fill="#a0a0a0" shape-rendering="crispEdges"/><rect x="879" y="0" width="1" height="20" fill="#ffffff" shape-rendering="crispEdges"/>
<g fill="#9a9a9a" shape-rendering="crispEdges"><rect x="882" y="0" width="3" height="1"/><rect x="882" y="2" width="3" height="1"/><rect x="882" y="4" width="3" height="1"/><rect x="882" y="6" width="3" height="1"/><rect x="882" y="8" width="3" height="1"/><rect x="882" y="10" width="3" height="1"/><rect x="882" y="12" width="3" height="1"/><rect x="882" y="14" width="3" height="1"/><rect x="882" y="16" width="3" height="1"/></g>
<g shape-rendering="crispEdges"><rect x="1028" y="0" width="25" height="18" fill="url(#hatch)"/><rect x="1028" y="0" width="1" height="18" fill="#a0a0a0"/><rect x="1029" y="18" width="25" height="1" fill="#ffffff"/><rect x="1053" y="0" width="1" height="19" fill="#ffffff"/></g>
<rect x="1139" y="0" width="1" height="18" fill="#a0a0a0" shape-rendering="crispEdges"/>
<text x="900.8000000000001" y="12" font-size="9.8" text-anchor="middle" fill="#303030" stroke="#303030" stroke-width="0.2" text-rendering="geometricPrecision" letter-spacing="1.3">M1</text>
<text x="928.6" y="12" font-size="9.8" text-anchor="middle" fill="#303030" stroke="#303030" stroke-width="0.2" text-rendering="geometricPrecision" letter-spacing="1.3">M5</text>
<text x="956.6" y="12" font-size="9.8" text-anchor="middle" fill="#303030" stroke="#303030" stroke-width="0.2" text-rendering="geometricPrecision">M15</text>
<text x="984.6" y="12" font-size="9.8" text-anchor="middle" fill="#303030" stroke="#303030" stroke-width="0.2" text-rendering="geometricPrecision">M30</text>
<text x="1013.2" y="12" font-size="9.8" text-anchor="middle" fill="#303030" stroke="#303030" stroke-width="0.2" text-rendering="geometricPrecision" letter-spacing="1.3">H1</text>
<text x="1040.8" y="12" font-size="9.8" text-anchor="middle" fill="#303030" stroke="#303030" stroke-width="0.2" text-rendering="geometricPrecision" letter-spacing="1.3">H4</text>
<text x="1069.3999999999999" y="12" font-size="9.8" text-anchor="middle" fill="#303030" stroke="#303030" stroke-width="0.2" text-rendering="geometricPrecision" letter-spacing="1.3">D1</text>
<text x="1097.8" y="12" font-size="9.8" text-anchor="middle" fill="#303030" stroke="#303030" stroke-width="0.2" text-rendering="geometricPrecision" letter-spacing="1.3">W1</text>
<text x="1124.8" y="12" font-size="9.8" text-anchor="middle" fill="#303030" stroke="#303030" stroke-width="0.2" text-rendering="geometricPrecision" letter-spacing="1.3">MN</text>
<path d="M1606.6,8.6 L1602,13.2" stroke="#2a62d0" stroke-width="2.2" stroke-linecap="round"/>
<circle cx="1609.6" cy="5.4" r="4" fill="#f4f6ff" stroke="#2a62d0" stroke-width="1.2"/>
<path d="M1627,10 C1627,6.4 1630,5.2 1633,5.2 C1636,5.2 1638.6,6.8 1638.6,10 C1638.6,13.2 1635.6,14.2 1632.4,14.2 L1629.6,16.4 L1629.8,13.8 C1628,13.2 1627,11.8 1627,10 Z" fill="#e8e8ee" stroke="#b0b0b0" stroke-width="0.8"/>
<circle cx="1640.6" cy="5.2" r="8.2" fill="url(#badge)"/>
<text x="1640.4" y="10.2" font-size="13" text-anchor="middle" fill="#fff" font-family='"Liberation Serif", serif' text-rendering="geometricPrecision">1</text>
</svg>
<div class="cjk" style="left:-1.8px;top:0.6px;">新订单</div>
<div class="cjk" style="left:148.6px;top:0.6px;">自动交易</div>
</div>
</body>
</html>
